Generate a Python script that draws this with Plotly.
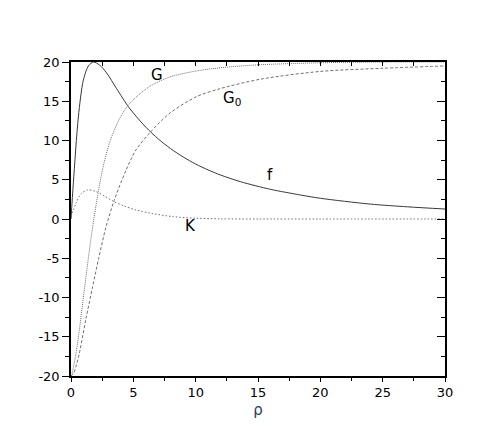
import plotly.graph_objects as go

# curves
rho_f = [0, 0.19, 0.59, 0.99, 1.4, 1.8, 2.3, 2.86, 3.66, 4.6, 5, 6, 7, 8, 9, 10, 11, 12, 13.6, 16, 18.4, 20, 24, 27, 30]
f_vals = [0, 4.6, 13, 17.7, 19.5, 20, 19.6, 18.6, 16.6, 14.3, 13.5, 11.7, 10.2, 8.95, 7.9, 7.0, 6.25, 5.6, 4.75, 3.78, 3.06, 2.64, 1.9, 1.55, 1.27]

rho_g = [0, 0.08, 0.4, 0.72, 1.07, 1.39, 1.74, 2.14, 2.54, 3.07, 3.66, 4.3, 5.0, 6.33, 7.94, 10.6, 14.6, 20, 25, 30]
g_vals = [-20, -19.7, -17.1, -13.5, -9.0, -5.0, -1.0, 3.0, 6.4, 9.6, 12.0, 13.9, 15.2, 16.9, 18.1, 19.0, 19.6, 19.9, 20, 20]

rho_g0 = [0, 0.19, 0.4, 0.67, 1.2, 1.74, 2.22, 2.81, 3.47, 4.41, 5.21, 6.33, 7.94, 10.08, 11.95, 15.16, 20, 25, 30]
g0_vals = [-20, -19.7, -18.8, -17.1, -12.7, -8.6, -5.0, -1.0, 2.4, 6.2, 8.8, 11.0, 13.5, 15.6, 16.6, 17.8, 18.8, 19.2, 19.5]

rho_k = [0, 0.4, 0.8, 1.34, 2.0, 2.7, 3.34, 4.2, 5.21, 6.5, 8.2, 10, 12, 15, 20, 30]
k_vals = [0.3, 2.0, 3.2, 3.7, 3.5, 2.9, 2.3, 1.7, 1.15, 0.7, 0.3, 0.1, 0.02, 0, 0, 0]

# tick labels (plain hyphen minus, as in the original)
x_ticks = [0, 5, 10, 15, 20, 25, 30]
y_ticks = [-20, -15, -10, -5, 0, 5, 10, 15, 20]
y_ticktext = [str(v) for v in y_ticks]

FONT = "DejaVu Sans, Liberation Sans, Arial, sans-serif"
GRAY = "#707070"

fig = go.Figure()
fig.add_trace(go.Scatter(x=rho_f, y=f_vals, mode="lines",
                         line=dict(color="#383838", width=1, shape="spline", smoothing=0.8)))
fig.add_trace(go.Scatter(x=rho_g, y=g_vals, mode="lines",
                         line=dict(color=GRAY, width=1, dash="1px,1px", shape="spline", smoothing=0.8)))
fig.add_trace(go.Scatter(x=rho_g0, y=g0_vals, mode="lines",
                         line=dict(color=GRAY, width=1, dash="3px,2px", shape="spline", smoothing=0.8)))
fig.add_trace(go.Scatter(x=rho_k, y=k_vals, mode="lines",
                         line=dict(color=GRAY, width=1, dash="1.5px,2px", shape="spline", smoothing=0.8)))

# curve labels
labels = [(6.9, 18.3, "G"), (12.9, 15.4, "G<sub>0</sub>"), (15.95, 5.6, "f"), (9.55, -0.9, "K")]
for x, y, t in labels:
    fig.add_annotation(x=x, y=y, text=t, showarrow=False, font=dict(family=FONT, size=15, color="black"))

axis_common = dict(showline=True, linecolor="black", linewidth=1.5, showgrid=False, zeroline=False,
                   tickcolor="black", tickfont=dict(family=FONT, size=13, color="black"))
frame_axis = {k: v for k, v in axis_common.items() if k != "tickfont"}

fig.update_layout(
    width=483, height=435,
    margin=dict(l=63, r=46, t=54, b=67),
    paper_bgcolor="white", plot_bgcolor="white",
    showlegend=False,
    xaxis=dict(range=[0, 30], tickvals=x_ticks, ticks="outside", ticklen=4,
               minor=dict(dtick=2.5, ticks="outside", ticklen=3, tickcolor="black"),
               title=dict(text="ρ", font=dict(family=FONT, size=15), standoff=5), **axis_common),
    yaxis=dict(range=[-20, 20], tickvals=y_ticks, ticktext=y_ticktext, ticks="outside", ticklen=7,
               minor=dict(dtick=2.5, ticks="outside", ticklen=4, tickcolor="black"), **axis_common),
    xaxis2=dict(range=[0, 30], overlaying="x", side="top", showticklabels=False, tick0=0, dtick=2.5,
                ticks="inside", ticklen=4, **frame_axis),
    yaxis2=dict(range=[-20, 20], overlaying="y", side="right", showticklabels=False, tick0=-20, dtick=5,
                ticks="inside", ticklen=8,
                minor=dict(dtick=2.5, ticks="inside", ticklen=4, tickcolor="black"), **frame_axis),
)
# empty trace so the top and right axes are drawn
fig.add_trace(go.Scatter(x=[None], y=[None], xaxis="x2", yaxis="y2", showlegend=False))

fig.write_html("out.html")
